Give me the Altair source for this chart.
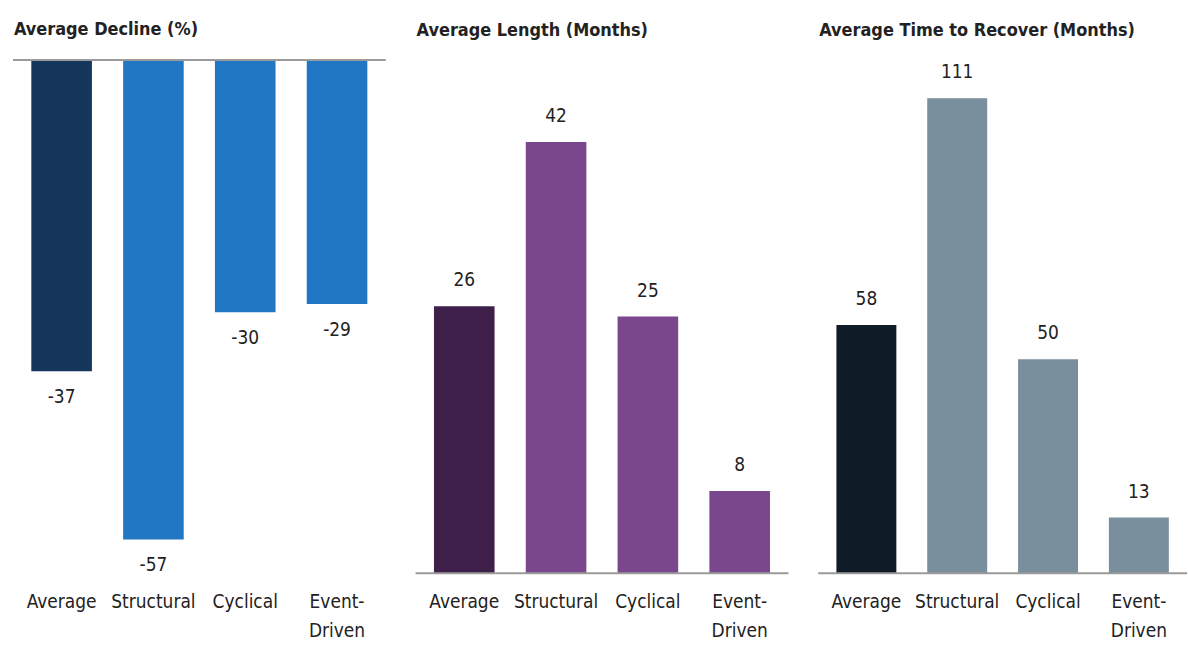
import altair as alt
import pandas as pd

categories = ["Average", "Structural", "Cyclical", "Event-Driven"]
decline = [-37, -57, -30, -29]
length = [26, 42, 25, 8]
recover = [58, 111, 50, 13]

titles = ["Average Decline (%)", "Average Length (Months)", "Average Time to Recover (Months)"]
colors1 = ["#14365A", "#2277C5", "#2277C5", "#2277C5"]
colors2 = ["#3E1F4A", "#7A468C", "#7A468C", "#7A468C"]
colors3 = ["#101B28", "#7A8F9D", "#7A8F9D", "#7A8F9D"]

FONT = "'DejaVu Sans Condensed', 'Liberation Sans Narrow', Roboto, sans-serif"
TXT = "#222222"


def panel(values, title, colors, domain, negative, width):
    df = pd.DataFrame({"cat": categories, "val": values, "label": [str(v) for v in values]})
    x = alt.X(
        "cat:N",
        sort=categories,
        scale=alt.Scale(paddingInner=0.34, paddingOuter=0.2),
        axis=alt.Axis(
            title=None, labelAngle=0, domain=False, ticks=False,
            labelFontSize=19, labelColor=TXT, labelFont=FONT, labelPadding=19,
            labelLineHeight=30,
            labelExpr="datum.value == 'Event-Driven' ? ['Event-', 'Driven'] : datum.value",
        ),
    )
    y = alt.Y("val:Q", scale=alt.Scale(domain=domain, nice=False, zero=True), axis=None)
    base = alt.Chart(df)
    bars = base.mark_bar().encode(
        x=x, y=y,
        color=alt.Color("cat:N", scale=alt.Scale(domain=categories, range=colors), legend=None),
    )
    text = base.mark_text(
        dy=(26 if negative else -26), fontSize=19, font=FONT, color=TXT,
        baseline="middle",
    ).encode(x=x, y=y, text="label:N")
    rule = alt.Chart(pd.DataFrame({"z": [0]})).mark_rule(color="#9a9a9a", strokeWidth=2).encode(
        y=alt.Y("z:Q", scale=alt.Scale(domain=domain, nice=False), axis=None)
    )
    return alt.layer(bars, rule, text).properties(
        width=width, height=515,
        title=alt.TitleParams(title, anchor="start", fontSize=18, font=FONT,
                              fontWeight="bold", color=TXT, offset=20, dx=2),
    )


p1 = panel(decline, titles[0], colors1, [-61, 0], True, 374)
p2 = panel(length, titles[1], colors2, [0, 50], False, 374)
p3 = panel(recover, titles[2], colors3, [0, 120], False, 370)

chart = alt.hconcat(p1, p2, p3, spacing=28).resolve_scale(color="independent").properties(
    padding={"left": 12, "top": 20, "right": 0, "bottom": 0},
    background="white",
).configure_view(stroke=None)

chart.save("out.html", embed_options={"renderer": "svg", "actions": False})
